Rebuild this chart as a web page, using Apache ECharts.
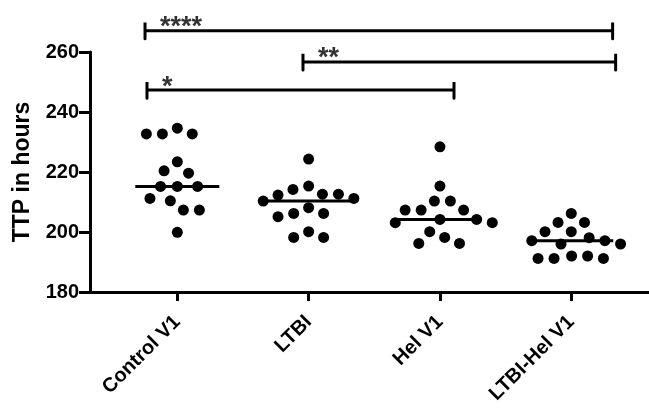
<!DOCTYPE html>
<html><head><meta charset="utf-8">
<script src="https://cdn.jsdelivr.net/npm/echarts@6/dist/echarts.min.js"></script>
<style>html,body{margin:0;padding:0;background:#fff}#c{width:649px;height:408px}</style>
</head><body><div id="c"></div>
<script>
const categories = ['Control V1', 'LTBI', 'Hel V1', 'LTBI-Hel V1'];
const controlV1 = [232.7, 232.7, 232.7, 234.6, 223.4, 220.4, 219.6, 215.2, 215.2, 215.2, 211.2, 210.4, 207.3, 207.3, 199.9];
const ltbi = [224.3, 215.3, 214.2, 212.6, 212.6, 212.3, 211.2, 210.3, 208.1, 206.2, 206.2, 205.1, 200.1, 198.2, 198.2];
const helV1 = [228.4, 215.3, 210.3, 210.3, 207.3, 207.3, 207.3, 204.2, 204.2, 203.1, 203.1, 200.1, 198.2, 196.2, 196.2];
const ltbiHelV1 = [206.2, 203.2, 203.2, 200.1, 200.1, 198.1, 197.1, 197.1, 196.0, 196.0, 192.0, 192.0, 191.2, 191.2, 191.2];
const yTicks = [180, 200, 220, 240, 260];
const sigLabels = ['****', '**', '*'];
const sigLevel = [267.1, 256.7, 247.3];
const sigFrom = [-0.246, 0.957, -0.231];
const sigTo = [3.315, 3.338, 2.107];

const groups = [controlV1, ltbi, helV1, ltbiHelV1];
const FONT = "'Liberation Sans', Arial, sans-serif";
const GRID = {left: 90, right: 0, top: 52, bottom: 116};
const W = 649, H = 408;
const xMin = -0.665, xMax = 3.592;
const yMin = yTicks[0], yMax = yTicks[yTicks.length - 1];
const pxPerX = (W - GRID.left - GRID.right) / (xMax - xMin);
const pxPerY = (H - GRID.top - GRID.bottom) / (yMax - yMin);

function median(arr) {
  const s = arr.slice().sort((a, b) => a - b);
  const n = s.length;
  return n % 2 ? s[(n - 1) / 2] : (s[n / 2 - 1] + s[n / 2]) / 2;
}

function swarm(vals, ci, D) {
  const order = vals.map((v, i) => i).sort((a, b) => vals[b] - vals[a]);
  const placed = [];
  const out = [];
  order.forEach(i => {
    const y = vals[i] * pxPerY;
    const cands = [0];
    placed.forEach(p => {
      const dy = Math.abs(p.y - y);
      if (dy < D) { const dx = Math.sqrt(D * D - dy * dy); cands.push(p.x + dx, p.x - dx); }
    });
    cands.sort((a, b) => (Math.abs(a) - Math.abs(b)) || (a - b));
    let x = 0;
    for (const c of cands) {
      if (placed.every(p => Math.hypot(p.x - c, p.y - y) >= D - 1e-6)) { x = c; break; }
    }
    placed.push({x, y});
    out.push([ci + x / pxPerX, vals[i]]);
  });
  return out;
}

const series = [];
groups.forEach((g, ci) => {
  series.push({
    type: 'scatter', data: swarm(g, ci, 16), symbol: 'circle', symbolSize: 11,
    itemStyle: {color: '#000', opacity: 1}, silent: true, z: 3
  });
  const m = median(g);
  series.push({
    type: 'line', data: [[ci - 0.32, m], [ci + 0.32, m]], symbol: 'none',
    lineStyle: {color: '#000', width: 3}, silent: true, z: 4
  });
});

const tickH = 2.7;
sigLabels.forEach((lab, k) => {
  const y = sigLevel[k], a = sigFrom[k], b = sigTo[k];
  series.push({
    type: 'line', clip: false, symbol: 'none', silent: true,
    lineStyle: {color: '#000', width: 3, cap: 'round'},
    data: [[a, y - tickH], [a, y + tickH], [a, y], [b, y], [b, y + tickH], [b, y - tickH]]
  });
  series.push({
    type: 'scatter', clip: false, symbolSize: 0, silent: true,
    data: [[a, y]],
    label: {show: true, formatter: lab, position: 'inside', align: 'left', verticalAlign: 'middle',
      offset: [15, -3], color: '#000', fontSize: 27, fontWeight: 'bold', fontFamily: FONT}
  });
});

const chart = echarts.init(document.getElementById('c'), null, {renderer: 'canvas'});
chart.setOption({
  animation: false,
  backgroundColor: '#fff',
  grid: GRID,
  xAxis: {
    type: 'value', min: xMin, max: xMax,
    axisLine: {show: true, onZero: false, lineStyle: {color: '#000', width: 3}},
    axisTick: {show: true, customValues: [0, 1, 2, 3], length: 9, lineStyle: {color: '#000', width: 3}},
    axisLabel: {customValues: [0, 1, 2, 3], formatter: v => categories[Math.round(v)] || '',
      rotate: 45, margin: 27, color: '#000', fontWeight: 'bold', fontSize: 20, fontFamily: FONT},
    splitLine: {show: false}
  },
  yAxis: {
    type: 'value', min: yMin, max: yMax, interval: 20,
    name: 'TTP in hours', nameLocation: 'middle', nameGap: 56, nameRotate: 90,
    nameTextStyle: {color: '#000', fontWeight: 'bold', fontSize: 23, fontFamily: FONT},
    axisLine: {show: true, onZero: false, lineStyle: {color: '#000', width: 3}},
    axisTick: {show: true, length: 11, lineStyle: {color: '#000', width: 3}},
    axisLabel: {color: '#000', fontWeight: 'bold', fontSize: 20, fontFamily: FONT, margin: 11},
    splitLine: {show: false}
  },
  series: series
});
</script>
</body></html>
